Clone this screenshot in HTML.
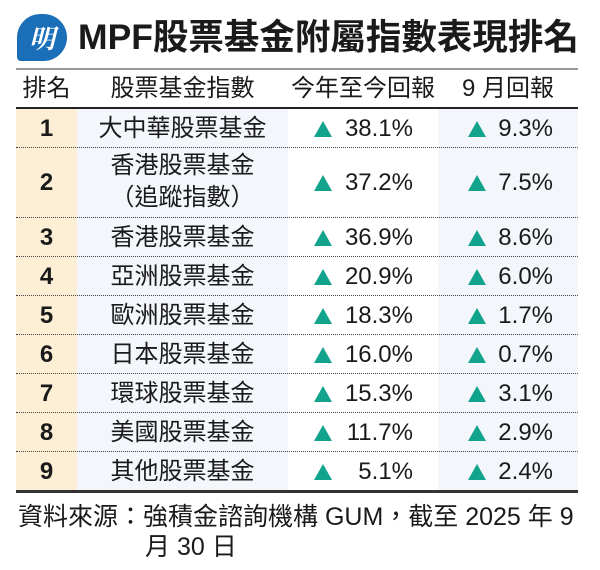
<!DOCTYPE html>
<html><head><meta charset="utf-8"><style>
body{margin:0;width:600px;height:570px;background:#fff;position:relative;overflow:hidden;font-family:"Liberation Sans","Noto Sans CJK TC",sans-serif;color:#1a1a1a}
.abs{position:absolute}
.logo{left:17px;top:14px;width:50px;height:47px;background:#1a6fb8;border-radius:25px 25px 25px 4px;color:#fff;font-family:"Noto Serif CJK SC",serif;font-weight:bold;font-style:italic;font-size:26px;line-height:47px;text-align:center}
.title{left:78px;top:9px;font-size:35.5px;font-weight:bold;line-height:56px;white-space:nowrap}
.hl{left:16px;width:562px;height:2px}
.hdr{top:69px;height:39px;line-height:39px;font-size:24px;text-align:center;white-space:nowrap}
.bg{top:109px;height:382px}
.row{position:absolute;left:16px;width:562px;border-bottom:1.5px dotted #444;box-sizing:border-box}
.c{position:absolute;font-size:24px;line-height:39px;white-space:nowrap}
.n{text-align:center;left:0;width:61px;font-weight:bold}
.nm{text-align:center;left:61px;width:211px}
.v1{right:165px;text-align:right}
.v2{right:25px;text-align:right}
.t{position:absolute;width:18px;height:16px}
</style></head><body>
<div class="abs logo">明</div>
<div class="abs title">MPF股票基金附屬指數表現排名</div>
<div class="abs hl" style="top:68px;background:#999"></div>
<div class="abs hdr" style="left:16px;width:61px">排名</div>
<div class="abs hdr" style="left:77px;width:211px">股票基金指數</div>
<div class="abs hdr" style="left:288px;width:150px">今年至今回報</div>
<div class="abs hdr" style="left:438px;width:140px">9 月回報</div>
<div class="abs hl" style="top:107px;background:#222"></div>
<div class="abs bg" style="left:16px;width:61px;background:#fcefd6"></div>
<div class="abs bg" style="left:77px;width:211px;background:#f3f6fb"></div>
<div class="abs bg" style="left:438px;width:140px;background:#f3f6fb"></div>
<svg width="0" height="0" style="position:absolute"><defs><polygon id="tr" points="9,0 18,16 0,16" fill="#12a38c"/></defs></svg>
<div class="abs" style="top:109px;left:0;width:600px">
<div class="row" style="top:0;height:39px"><div class="c n">1</div><div class="c nm">大中華股票基金</div><svg class="t" style="left:298px;top:12px"><use href="#tr"/></svg><div class="c v1">38.1%</div><svg class="t" style="left:452px;top:12px"><use href="#tr"/></svg><div class="c v2">9.3%</div></div>
<div class="row" style="top:39px;height:70px"><div class="c n" style="top:15px">2</div><div class="c nm" style="top:2px;line-height:32px">香港股票基金<br>（追蹤指數）</div><svg class="t" style="left:298px;top:27px"><use href="#tr"/></svg><div class="c v1" style="top:15px">37.2%</div><svg class="t" style="left:452px;top:27px"><use href="#tr"/></svg><div class="c v2" style="top:15px">7.5%</div></div>
<div class="row" style="top:109px;height:39px"><div class="c n">3</div><div class="c nm">香港股票基金</div><svg class="t" style="left:298px;top:12px"><use href="#tr"/></svg><div class="c v1">36.9%</div><svg class="t" style="left:452px;top:12px"><use href="#tr"/></svg><div class="c v2">8.6%</div></div>
<div class="row" style="top:148px;height:39px"><div class="c n">4</div><div class="c nm">亞洲股票基金</div><svg class="t" style="left:298px;top:12px"><use href="#tr"/></svg><div class="c v1">20.9%</div><svg class="t" style="left:452px;top:12px"><use href="#tr"/></svg><div class="c v2">6.0%</div></div>
<div class="row" style="top:187px;height:39px"><div class="c n">5</div><div class="c nm">歐洲股票基金</div><svg class="t" style="left:298px;top:12px"><use href="#tr"/></svg><div class="c v1">18.3%</div><svg class="t" style="left:452px;top:12px"><use href="#tr"/></svg><div class="c v2">1.7%</div></div>
<div class="row" style="top:226px;height:39px"><div class="c n">6</div><div class="c nm">日本股票基金</div><svg class="t" style="left:298px;top:12px"><use href="#tr"/></svg><div class="c v1">16.0%</div><svg class="t" style="left:452px;top:12px"><use href="#tr"/></svg><div class="c v2">0.7%</div></div>
<div class="row" style="top:265px;height:39px"><div class="c n">7</div><div class="c nm">環球股票基金</div><svg class="t" style="left:298px;top:12px"><use href="#tr"/></svg><div class="c v1">15.3%</div><svg class="t" style="left:452px;top:12px"><use href="#tr"/></svg><div class="c v2">3.1%</div></div>
<div class="row" style="top:304px;height:39px"><div class="c n">8</div><div class="c nm">美國股票基金</div><svg class="t" style="left:298px;top:12px"><use href="#tr"/></svg><div class="c v1">11.7%</div><svg class="t" style="left:452px;top:12px"><use href="#tr"/></svg><div class="c v2">2.9%</div></div>
<div class="row" style="top:343px;height:39px;border-bottom:none"><div class="c n">9</div><div class="c nm">其他股票基金</div><svg class="t" style="left:298px;top:12px"><use href="#tr"/></svg><div class="c v1">5.1%</div><svg class="t" style="left:452px;top:12px"><use href="#tr"/></svg><div class="c v2">2.4%</div></div>
</div>
<div class="abs hl" style="top:490px;height:3px;background:#333"></div>
<div class="abs" style="left:18px;top:502px;font-size:25px;line-height:30px;white-space:nowrap">資料來源：強積金諮詢機構 GUM，截至 2025 年 9</div>
<div class="abs" style="left:145px;top:532px;font-size:25px;line-height:30px;white-space:nowrap">月 30 日</div>
</body></html>
